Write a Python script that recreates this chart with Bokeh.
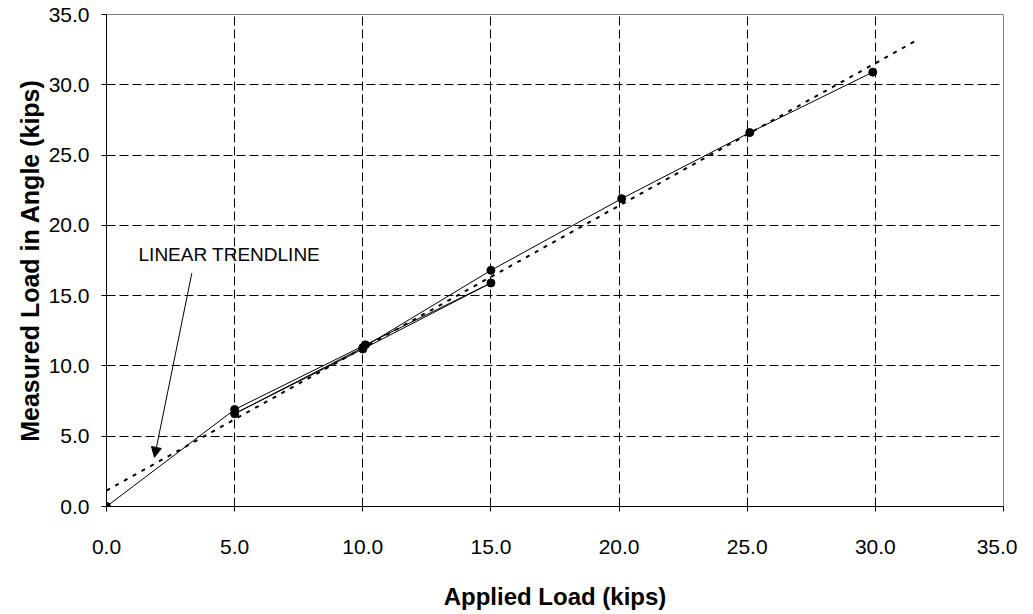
import numpy as np
from bokeh.plotting import figure
from bokeh.models import Arrow, NormalHead, Label, Range1d, FixedTicker, NumeralTickFormatter
from bokeh.embed import file_html
from bokeh.resources import INLINE

# ---- data ----
applied_load = [0.0, 5.0, 10.1, 15.0, 10.0, 5.0, 10.0, 15.0, 20.1, 25.1, 29.9]
measured_load = [0.0, 6.9, 11.5, 15.9, 11.2, 6.6, 11.3, 16.8, 21.9, 26.6, 30.9]
tick_values = [0, 5, 10, 15, 20, 25, 30, 35]
trend_x_end = 31.7
annotation_text = "LINEAR TRENDLINE"
x_title = "Applied Load (kips)"
y_title = "Measured Load in Angle (kips)"

FONT = "Liberation Sans"

p = figure(width=1017, height=612, output_backend="svg", toolbar_location=None,
           x_range=Range1d(0, 35), y_range=Range1d(0, 35),
           min_border_left=106, min_border_right=14, min_border_top=14, min_border_bottom=104)
p.background_fill_color = "white"
p.border_fill_color = "white"
p.outline_line_color = "#808080"
p.outline_line_width = 1

ticker = FixedTicker(ticks=tick_values)
for ax in (p.xaxis[0], p.yaxis[0]):
    ax.ticker = ticker
    ax.formatter = NumeralTickFormatter(format="0.0")
    ax.major_label_text_font = FONT
    ax.major_label_text_font_size = "21px"
    ax.major_label_text_color = "black"
    ax.axis_label_text_font = FONT
    ax.axis_label_text_font_size = "24px"
    ax.axis_label_text_font_style = "bold"
    ax.axis_label_text_color = "black"
    ax.axis_line_color = "black"
    ax.major_tick_line_color = "black"
    ax.major_tick_out = 5
    ax.major_tick_in = 0
    ax.minor_tick_line_color = None

p.xaxis.axis_label = x_title
p.yaxis.axis_label = y_title
p.yaxis.axis_label_text_font_size = "25px"
p.xaxis.major_label_standoff = 28
p.xaxis.axis_label_standoff = 26
p.yaxis.major_label_standoff = 12
p.yaxis.axis_label_standoff = 2

for g in (p.xgrid[0], p.ygrid[0]):
    g.ticker = ticker
    g.grid_line_color = "black"
    g.grid_line_dash = "9 4"
    g.grid_line_width = 1

# trendline (least squares fit of the data)
slope, intercept = np.polyfit(applied_load, measured_load, 1)
tx = np.array([0.0, trend_x_end])
ty = slope * tx + intercept
p.line(tx, ty, line_color="black", line_width=2, line_dash="4 6")

# measured data
p.line(applied_load, measured_load, line_color="black", line_width=1)
p.scatter(applied_load, measured_load, size=8, fill_color="black", line_color="black")

# annotation
p.add_layout(Label(x=1.25, y=17.9, text=annotation_text, text_font=FONT,
                   text_font_size="19px", text_baseline="middle", text_color="black"))
p.add_layout(Arrow(x_start=3.33, y_start=16.6, x_end=1.87, y_end=3.5,
                   line_color="black", line_width=1,
                   end=NormalHead(size=10, fill_color="black", line_color="black")))

open("out.html", "w").write(file_html(p, INLINE))
